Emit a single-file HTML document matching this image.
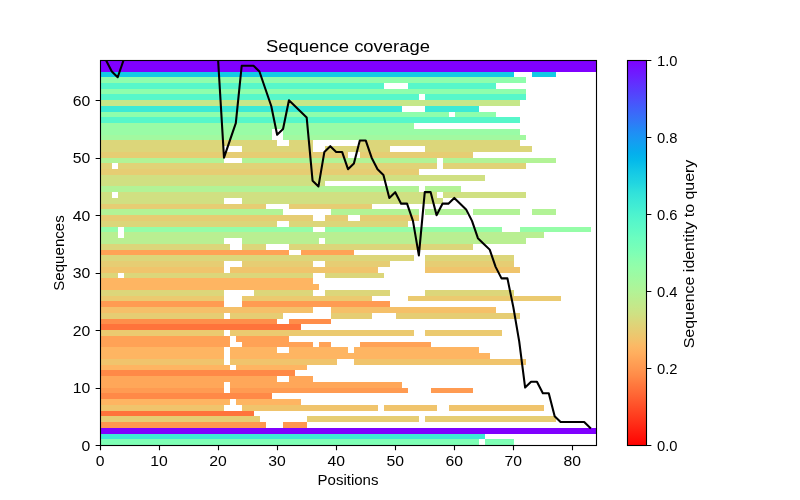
<!DOCTYPE html><html><head><meta charset="utf-8"><style>html,body{margin:0;padding:0;background:#fff;width:800px;height:500px;overflow:hidden}svg{display:block;will-change:transform}text{font-family:"Liberation Sans",sans-serif;fill:#000;-webkit-font-smoothing:antialiased}</style></head><body>
<svg width="800" height="500" viewBox="0 0 800 500">
<rect x="0" y="0" width="800" height="500" fill="#fff"/>
<defs><clipPath id="ax"><rect x="100" y="60" width="496" height="385"/></clipPath>
<linearGradient id="cb" x1="0" y1="0" x2="0" y2="1"><stop offset="0.000" stop-color="#8000ff"/><stop offset="0.020" stop-color="#7510ff"/><stop offset="0.040" stop-color="#6c1fff"/><stop offset="0.060" stop-color="#622ffe"/><stop offset="0.080" stop-color="#573efd"/><stop offset="0.100" stop-color="#4e4dfc"/><stop offset="0.120" stop-color="#435cfb"/><stop offset="0.140" stop-color="#3a6bf9"/><stop offset="0.160" stop-color="#3079f7"/><stop offset="0.180" stop-color="#2389f5"/><stop offset="0.200" stop-color="#1a96f3"/><stop offset="0.220" stop-color="#10a2f0"/><stop offset="0.240" stop-color="#05aeed"/><stop offset="0.260" stop-color="#04b9ea"/><stop offset="0.280" stop-color="#0fc4e7"/><stop offset="0.300" stop-color="#19cde4"/><stop offset="0.320" stop-color="#22d6e0"/><stop offset="0.340" stop-color="#2fe0db"/><stop offset="0.360" stop-color="#39e7d7"/><stop offset="0.380" stop-color="#42edd3"/><stop offset="0.400" stop-color="#4df3ce"/><stop offset="0.420" stop-color="#57f7ca"/><stop offset="0.440" stop-color="#60fac5"/><stop offset="0.460" stop-color="#6bfdc0"/><stop offset="0.480" stop-color="#74feba"/><stop offset="0.500" stop-color="#7effb5"/><stop offset="0.520" stop-color="#8bfeae"/><stop offset="0.540" stop-color="#95fda8"/><stop offset="0.560" stop-color="#9efaa2"/><stop offset="0.580" stop-color="#a8f79c"/><stop offset="0.600" stop-color="#b2f396"/><stop offset="0.620" stop-color="#bced8f"/><stop offset="0.640" stop-color="#c6e789"/><stop offset="0.660" stop-color="#d0e082"/><stop offset="0.680" stop-color="#dcd67a"/><stop offset="0.700" stop-color="#e6cd73"/><stop offset="0.720" stop-color="#f0c46c"/><stop offset="0.740" stop-color="#fbb965"/><stop offset="0.760" stop-color="#ffae5e"/><stop offset="0.780" stop-color="#ffa256"/><stop offset="0.800" stop-color="#ff964f"/><stop offset="0.820" stop-color="#ff8947"/><stop offset="0.840" stop-color="#ff793e"/><stop offset="0.860" stop-color="#ff6b37"/><stop offset="0.880" stop-color="#ff5c2f"/><stop offset="0.900" stop-color="#ff4d27"/><stop offset="0.920" stop-color="#ff3e1f"/><stop offset="0.940" stop-color="#ff2f18"/><stop offset="0.960" stop-color="#ff1f10"/><stop offset="0.980" stop-color="#ff1008"/><stop offset="1.000" stop-color="#ff0000"/></linearGradient></defs>
<g shape-rendering="crispEdges">
<rect x="100" y="60" width="496" height="6" fill="#8000ff"/>
<rect x="100" y="66" width="496" height="6" fill="#8000ff"/>
<rect x="100" y="72" width="414" height="5" fill="#14cae5"/>
<rect x="532" y="72" width="24" height="5" fill="#14cae5"/>
<rect x="100" y="77" width="426" height="6" fill="#8efeac"/>
<rect x="100" y="83" width="284" height="6" fill="#57f7ca"/>
<rect x="408" y="83" width="88" height="6" fill="#57f7ca"/>
<rect x="100" y="89" width="426" height="5" fill="#8efeac"/>
<rect x="100" y="94" width="319" height="6" fill="#57f7ca"/>
<rect x="425" y="94" width="101" height="6" fill="#57f7ca"/>
<rect x="100" y="100" width="420" height="6" fill="#c6e789"/>
<rect x="100" y="106" width="302" height="6" fill="#3dead5"/>
<rect x="425" y="106" width="54" height="6" fill="#3dead5"/>
<rect x="100" y="112" width="349" height="5" fill="#8efeac"/>
<rect x="455" y="112" width="41" height="5" fill="#8efeac"/>
<rect x="100" y="117" width="420" height="6" fill="#57f7ca"/>
<rect x="100" y="123" width="314" height="6" fill="#99fca6"/>
<rect x="100" y="129" width="172" height="6" fill="#99fca6"/>
<rect x="283" y="129" width="237" height="6" fill="#99fca6"/>
<rect x="100" y="135" width="172" height="5" fill="#a2f9a0"/>
<rect x="283" y="135" width="243" height="5" fill="#a2f9a0"/>
<rect x="100" y="140" width="177" height="6" fill="#dcd67a"/>
<rect x="289" y="140" width="24" height="6" fill="#dcd67a"/>
<rect x="360" y="140" width="160" height="6" fill="#dcd67a"/>
<rect x="100" y="146" width="124" height="6" fill="#dcd67a"/>
<rect x="242" y="146" width="71" height="6" fill="#dcd67a"/>
<rect x="325" y="146" width="65" height="6" fill="#dcd67a"/>
<rect x="425" y="146" width="107" height="6" fill="#dcd67a"/>
<rect x="100" y="152" width="248" height="6" fill="#e6cd73"/>
<rect x="360" y="152" width="113" height="6" fill="#e6cd73"/>
<rect x="100" y="158" width="124" height="5" fill="#b2f396"/>
<rect x="242" y="158" width="195" height="5" fill="#b2f396"/>
<rect x="443" y="158" width="113" height="5" fill="#b2f396"/>
<rect x="100" y="163" width="12" height="6" fill="#e0d377"/>
<rect x="118" y="163" width="319" height="6" fill="#e0d377"/>
<rect x="443" y="163" width="83" height="6" fill="#e0d377"/>
<rect x="100" y="169" width="319" height="6" fill="#e6cd73"/>
<rect x="100" y="175" width="385" height="6" fill="#d0e082"/>
<rect x="100" y="181" width="225" height="5" fill="#d0e082"/>
<rect x="100" y="186" width="319" height="6" fill="#b2f396"/>
<rect x="425" y="186" width="36" height="6" fill="#b2f396"/>
<rect x="100" y="192" width="12" height="6" fill="#d0e082"/>
<rect x="118" y="192" width="319" height="6" fill="#d0e082"/>
<rect x="443" y="192" width="83" height="6" fill="#d0e082"/>
<rect x="100" y="198" width="124" height="6" fill="#d0e082"/>
<rect x="242" y="198" width="201" height="6" fill="#d0e082"/>
<rect x="100" y="204" width="166" height="5" fill="#e6cd73"/>
<rect x="289" y="204" width="83" height="5" fill="#e6cd73"/>
<rect x="100" y="209" width="183" height="6" fill="#b2f396"/>
<rect x="331" y="209" width="88" height="6" fill="#b2f396"/>
<rect x="425" y="209" width="42" height="6" fill="#b2f396"/>
<rect x="473" y="209" width="47" height="6" fill="#b2f396"/>
<rect x="532" y="209" width="24" height="6" fill="#b2f396"/>
<rect x="100" y="215" width="213" height="6" fill="#e6cd73"/>
<rect x="325" y="215" width="23" height="6" fill="#e6cd73"/>
<rect x="360" y="215" width="59" height="6" fill="#e6cd73"/>
<rect x="100" y="221" width="177" height="6" fill="#dcd67a"/>
<rect x="289" y="221" width="119" height="6" fill="#dcd67a"/>
<rect x="100" y="227" width="18" height="5" fill="#95fda8"/>
<rect x="124" y="227" width="189" height="5" fill="#95fda8"/>
<rect x="325" y="227" width="177" height="5" fill="#95fda8"/>
<rect x="520" y="227" width="71" height="5" fill="#95fda8"/>
<rect x="100" y="232" width="18" height="6" fill="#b9ef92"/>
<rect x="124" y="232" width="420" height="6" fill="#b9ef92"/>
<rect x="100" y="238" width="124" height="6" fill="#b9ef92"/>
<rect x="242" y="238" width="77" height="6" fill="#b9ef92"/>
<rect x="325" y="238" width="201" height="6" fill="#b9ef92"/>
<rect x="100" y="244" width="130" height="6" fill="#dcd67a"/>
<rect x="242" y="244" width="24" height="6" fill="#dcd67a"/>
<rect x="289" y="244" width="184" height="6" fill="#dcd67a"/>
<rect x="100" y="250" width="189" height="5" fill="#ffa256"/>
<rect x="301" y="250" width="53" height="5" fill="#ffa256"/>
<rect x="100" y="255" width="314" height="6" fill="#dcd67a"/>
<rect x="425" y="255" width="89" height="6" fill="#dcd67a"/>
<rect x="100" y="261" width="124" height="6" fill="#e6cd73"/>
<rect x="242" y="261" width="71" height="6" fill="#e6cd73"/>
<rect x="325" y="261" width="65" height="6" fill="#e6cd73"/>
<rect x="425" y="261" width="89" height="6" fill="#e6cd73"/>
<rect x="100" y="267" width="124" height="6" fill="#f0c46c"/>
<rect x="230" y="267" width="148" height="6" fill="#f0c46c"/>
<rect x="425" y="267" width="95" height="6" fill="#f0c46c"/>
<rect x="100" y="273" width="18" height="5" fill="#dcd67a"/>
<rect x="124" y="273" width="189" height="5" fill="#dcd67a"/>
<rect x="325" y="273" width="59" height="5" fill="#dcd67a"/>
<rect x="100" y="278" width="213" height="6" fill="#feb562"/>
<rect x="100" y="284" width="219" height="6" fill="#feb562"/>
<rect x="100" y="290" width="124" height="6" fill="#dcd67a"/>
<rect x="254" y="290" width="59" height="6" fill="#dcd67a"/>
<rect x="325" y="290" width="65" height="6" fill="#dcd67a"/>
<rect x="425" y="290" width="89" height="6" fill="#dcd67a"/>
<rect x="100" y="296" width="124" height="5" fill="#ebca70"/>
<rect x="242" y="296" width="130" height="5" fill="#ebca70"/>
<rect x="408" y="296" width="153" height="5" fill="#ebca70"/>
<rect x="100" y="301" width="124" height="6" fill="#ff9b52"/>
<rect x="242" y="301" width="148" height="6" fill="#ff9b52"/>
<rect x="100" y="307" width="213" height="6" fill="#f5c069"/>
<rect x="331" y="307" width="165" height="6" fill="#f5c069"/>
<rect x="100" y="313" width="124" height="6" fill="#e6cd73"/>
<rect x="230" y="313" width="53" height="6" fill="#e6cd73"/>
<rect x="331" y="313" width="41" height="6" fill="#e6cd73"/>
<rect x="396" y="313" width="124" height="6" fill="#e6cd73"/>
<rect x="100" y="319" width="177" height="5" fill="#ff8e4a"/>
<rect x="289" y="319" width="42" height="5" fill="#ff8e4a"/>
<rect x="100" y="324" width="201" height="6" fill="#ff733b"/>
<rect x="100" y="330" width="124" height="6" fill="#ebca70"/>
<rect x="230" y="330" width="184" height="6" fill="#ebca70"/>
<rect x="425" y="330" width="77" height="6" fill="#ebca70"/>
<rect x="100" y="336" width="130" height="6" fill="#ffa256"/>
<rect x="236" y="336" width="53" height="6" fill="#ffa256"/>
<rect x="100" y="342" width="130" height="5" fill="#ffa256"/>
<rect x="242" y="342" width="71" height="5" fill="#ffa256"/>
<rect x="319" y="342" width="12" height="5" fill="#ffa256"/>
<rect x="360" y="342" width="71" height="5" fill="#ffa256"/>
<rect x="100" y="347" width="124" height="6" fill="#feb562"/>
<rect x="230" y="347" width="47" height="6" fill="#feb562"/>
<rect x="289" y="347" width="59" height="6" fill="#feb562"/>
<rect x="354" y="347" width="125" height="6" fill="#feb562"/>
<rect x="100" y="353" width="124" height="6" fill="#feb562"/>
<rect x="230" y="353" width="260" height="6" fill="#feb562"/>
<rect x="100" y="359" width="124" height="6" fill="#f0c46c"/>
<rect x="230" y="359" width="107" height="6" fill="#f0c46c"/>
<rect x="354" y="359" width="172" height="6" fill="#f0c46c"/>
<rect x="100" y="365" width="130" height="5" fill="#feb562"/>
<rect x="236" y="365" width="71" height="5" fill="#feb562"/>
<rect x="100" y="370" width="195" height="6" fill="#ff8947"/>
<rect x="100" y="376" width="177" height="6" fill="#ffa759"/>
<rect x="289" y="376" width="24" height="6" fill="#ffa759"/>
<rect x="100" y="382" width="124" height="6" fill="#ffa759"/>
<rect x="230" y="382" width="172" height="6" fill="#ffa759"/>
<rect x="100" y="388" width="124" height="5" fill="#ff9b52"/>
<rect x="230" y="388" width="178" height="5" fill="#ff9b52"/>
<rect x="431" y="388" width="42" height="5" fill="#ff9b52"/>
<rect x="100" y="393" width="172" height="6" fill="#ff8947"/>
<rect x="100" y="399" width="130" height="6" fill="#feb562"/>
<rect x="236" y="399" width="65" height="6" fill="#feb562"/>
<rect x="100" y="405" width="124" height="6" fill="#f0c46c"/>
<rect x="242" y="405" width="136" height="6" fill="#f0c46c"/>
<rect x="384" y="405" width="53" height="6" fill="#f0c46c"/>
<rect x="449" y="405" width="95" height="6" fill="#f0c46c"/>
<rect x="100" y="411" width="154" height="5" fill="#ff733b"/>
<rect x="100" y="416" width="160" height="6" fill="#e6cd73"/>
<rect x="307" y="416" width="112" height="6" fill="#e6cd73"/>
<rect x="425" y="416" width="131" height="6" fill="#e6cd73"/>
<rect x="100" y="422" width="166" height="6" fill="#ff964f"/>
<rect x="283" y="422" width="24" height="6" fill="#ff964f"/>
<rect x="100" y="428" width="496" height="6" fill="#8000ff"/>
<rect x="100" y="434" width="385" height="5" fill="#3dead5"/>
<rect x="100" y="439" width="379" height="6" fill="#7effb5"/>
<rect x="485" y="439" width="29" height="6" fill="#7effb5"/>
</g>
<polyline clip-path="url(#ax)" points="100.00,60.00 105.90,60.00 111.81,71.49 117.71,77.24 123.62,60.00 129.52,60.00 135.43,60.00 141.33,60.00 147.24,60.00 153.14,60.00 159.05,60.00 164.95,60.00 170.86,60.00 176.76,60.00 182.67,60.00 188.57,60.00 194.48,60.00 200.38,60.00 206.29,60.00 212.19,60.00 218.10,60.00 224.00,157.69 229.90,140.45 235.81,123.21 241.71,65.75 247.62,65.75 253.52,65.75 259.43,71.49 265.33,88.73 271.24,105.97 277.14,134.70 283.05,128.96 288.95,100.22 294.86,105.97 300.76,111.72 306.67,117.46 312.57,180.67 318.48,186.42 324.38,151.94 330.29,146.19 336.19,151.94 342.10,151.94 348.00,169.18 353.90,163.43 359.81,140.45 365.71,140.45 371.62,157.69 377.52,169.18 383.43,174.93 389.33,197.91 395.24,192.16 401.14,203.66 407.05,203.66 412.95,220.90 418.86,255.37 424.76,192.16 430.67,192.16 436.57,215.15 442.48,203.66 448.38,203.66 454.29,197.91 460.19,203.66 466.10,209.40 472.00,220.90 477.90,238.13 483.81,243.88 489.71,249.63 495.62,266.87 501.52,278.36 507.43,278.36 513.33,307.09 519.24,341.57 525.14,387.54 531.05,381.79 536.95,381.79 542.86,393.28 548.76,393.28 554.67,416.27 560.57,422.01 566.48,422.01 572.38,422.01 578.29,422.01 584.19,422.01 590.10,427.76" fill="none" stroke="#000" stroke-width="2.08" stroke-linejoin="round" stroke-linecap="square"/>
<rect x="100.5" y="60.5" width="496" height="385" fill="none" stroke="#000" stroke-width="1.11"/>
<path d="M100.5,445v5.36 M159.5,445v5.36 M218.5,445v5.36 M277.5,445v5.36 M336.5,445v5.36 M395.5,445v5.36 M454.5,445v5.36 M513.5,445v5.36 M572.5,445v5.36 M101,445.5h-5.36 M101,388.5h-5.36 M101,330.5h-5.36 M101,273.5h-5.36 M101,215.5h-5.36 M101,158.5h-5.36 M101,100.5h-5.36 M646,445.5h5.36 M646,368.5h5.36 M646,291.5h5.36 M646,214.5h5.36 M646,137.5h5.36 M646,60.5h5.36" stroke="#000" stroke-width="1.11" fill="none"/>
<rect x="627" y="60" width="20" height="386" fill="url(#cb)"/>
<rect x="627.5" y="60.5" width="19" height="385" fill="none" stroke="#000" stroke-width="1.11"/>
<text x="100.00" y="466.00" font-size="13.89" text-anchor="middle" textLength="8.75" lengthAdjust="spacingAndGlyphs">0</text>
<text x="159.05" y="466.00" font-size="13.89" text-anchor="middle" textLength="17.5" lengthAdjust="spacingAndGlyphs">10</text>
<text x="218.10" y="466.00" font-size="13.89" text-anchor="middle" textLength="17.5" lengthAdjust="spacingAndGlyphs">20</text>
<text x="277.14" y="466.00" font-size="13.89" text-anchor="middle" textLength="17.5" lengthAdjust="spacingAndGlyphs">30</text>
<text x="336.19" y="466.00" font-size="13.89" text-anchor="middle" textLength="17.5" lengthAdjust="spacingAndGlyphs">40</text>
<text x="395.24" y="466.00" font-size="13.89" text-anchor="middle" textLength="17.5" lengthAdjust="spacingAndGlyphs">50</text>
<text x="454.29" y="466.00" font-size="13.89" text-anchor="middle" textLength="17.5" lengthAdjust="spacingAndGlyphs">60</text>
<text x="513.33" y="466.00" font-size="13.89" text-anchor="middle" textLength="17.5" lengthAdjust="spacingAndGlyphs">70</text>
<text x="572.38" y="466.00" font-size="13.89" text-anchor="middle" textLength="17.5" lengthAdjust="spacingAndGlyphs">80</text>
<text x="90.30" y="450.50" font-size="13.89" text-anchor="end" textLength="8.75" lengthAdjust="spacingAndGlyphs">0</text>
<text x="90.30" y="393.04" font-size="13.89" text-anchor="end" textLength="17.5" lengthAdjust="spacingAndGlyphs">10</text>
<text x="90.30" y="335.57" font-size="13.89" text-anchor="end" textLength="17.5" lengthAdjust="spacingAndGlyphs">20</text>
<text x="90.30" y="278.11" font-size="13.89" text-anchor="end" textLength="17.5" lengthAdjust="spacingAndGlyphs">30</text>
<text x="90.30" y="220.65" font-size="13.89" text-anchor="end" textLength="17.5" lengthAdjust="spacingAndGlyphs">40</text>
<text x="90.30" y="163.19" font-size="13.89" text-anchor="end" textLength="17.5" lengthAdjust="spacingAndGlyphs">50</text>
<text x="90.30" y="105.72" font-size="13.89" text-anchor="end" textLength="17.5" lengthAdjust="spacingAndGlyphs">60</text>
<text x="657.00" y="450.50" font-size="13.89" text-anchor="start" textLength="20.5" lengthAdjust="spacingAndGlyphs">0.0</text>
<text x="657.00" y="373.50" font-size="13.89" text-anchor="start" textLength="20.5" lengthAdjust="spacingAndGlyphs">0.2</text>
<text x="657.00" y="296.50" font-size="13.89" text-anchor="start" textLength="20.5" lengthAdjust="spacingAndGlyphs">0.4</text>
<text x="657.00" y="219.50" font-size="13.89" text-anchor="start" textLength="20.5" lengthAdjust="spacingAndGlyphs">0.6</text>
<text x="657.00" y="142.50" font-size="13.89" text-anchor="start" textLength="20.5" lengthAdjust="spacingAndGlyphs">0.8</text>
<text x="657.00" y="65.50" font-size="13.89" text-anchor="start" textLength="20.5" lengthAdjust="spacingAndGlyphs">1.0</text>
<text x="348.00" y="52.00" font-size="16.67" text-anchor="middle" textLength="164" lengthAdjust="spacingAndGlyphs">Sequence coverage</text>
<text x="348.00" y="485.00" font-size="13.89" text-anchor="middle" textLength="61" lengthAdjust="spacingAndGlyphs">Positions</text>
<g transform="translate(64.0,253) rotate(-90)"><text x="0.00" y="0.00" font-size="13.89" text-anchor="middle" textLength="75.4" lengthAdjust="spacingAndGlyphs">Sequences</text></g>
<g transform="translate(693.5,254) rotate(-90)"><text x="0.00" y="0.00" font-size="13.89" text-anchor="middle" textLength="188.6" lengthAdjust="spacingAndGlyphs">Sequence identity to query</text></g>
</svg></body></html>
